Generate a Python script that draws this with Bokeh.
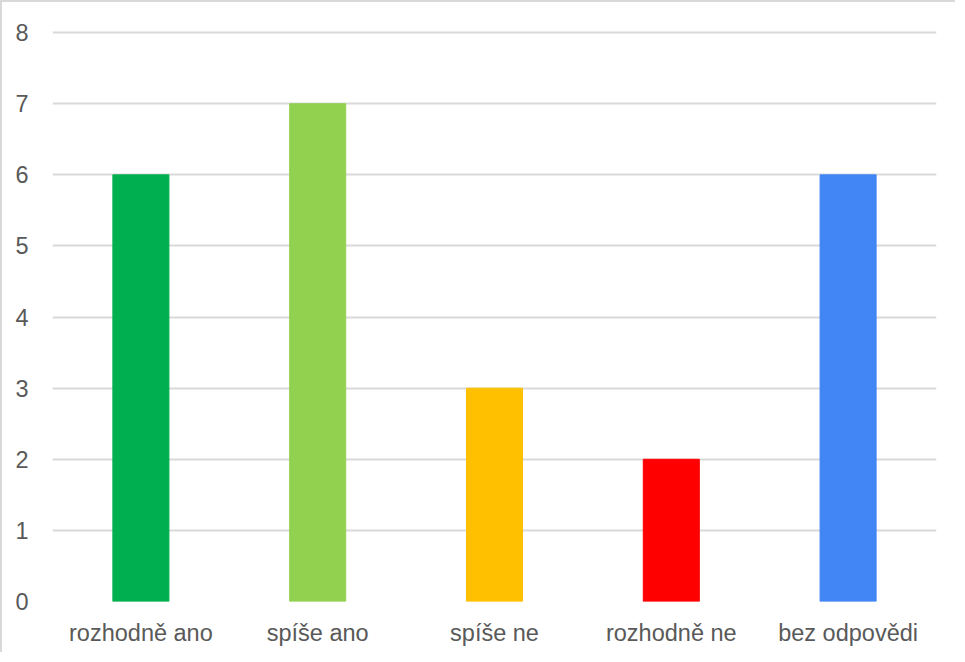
from bokeh.plotting import figure
from bokeh.models import ColumnDataSource, FixedTicker
from bokeh.embed import file_html
from bokeh.resources import INLINE

categories = ["rozhodně ano", "spíše ano", "spíše ne", "rozhodně ne", "bez odpovědi"]
counts = [6, 7, 3, 2, 6]
colors = ["#00B050", "#92D050", "#FFC000", "#FF0000", "#4285F4"]
y_ticks = [0, 1, 2, 3, 4, 5, 6, 7, 8]

src = ColumnDataSource(dict(cat=categories, val=counts, col=colors))

p = figure(x_range=categories, y_range=(0, 8.03), width=955, height=652,
           output_backend="svg", toolbar_location=None,
           min_border_left=50, min_border_right=21, min_border_top=28, min_border_bottom=53)
p.vbar(x="cat", top="val", width=0.317, color="col", source=src)

p.outline_line_color = None
p.background_fill_color = "white"
p.border_fill_color = "white"
p.styles = {"border-left": "2px solid #d9d9d9", "border-top": "2px solid #d9d9d9"}

p.xgrid.grid_line_color = None
p.ygrid.grid_line_color = "#d9d9d9"
p.ygrid.grid_line_width = 2
p.yaxis.ticker = FixedTicker(ticks=y_ticks)

for ax in (p.xaxis, p.yaxis):
    ax.axis_line_color = None
    ax.major_tick_line_color = None
    ax.minor_tick_line_color = None
    ax.major_label_text_font = "Liberation Sans"
    ax.major_label_text_font_size = "23.5px"
    ax.major_label_text_color = "#595959"

p.yaxis.major_label_standoff = 18
p.xaxis.major_label_standoff = 12
p.x_range.range_padding = 0

open("out.html", "w").write(file_html(p, INLINE))
